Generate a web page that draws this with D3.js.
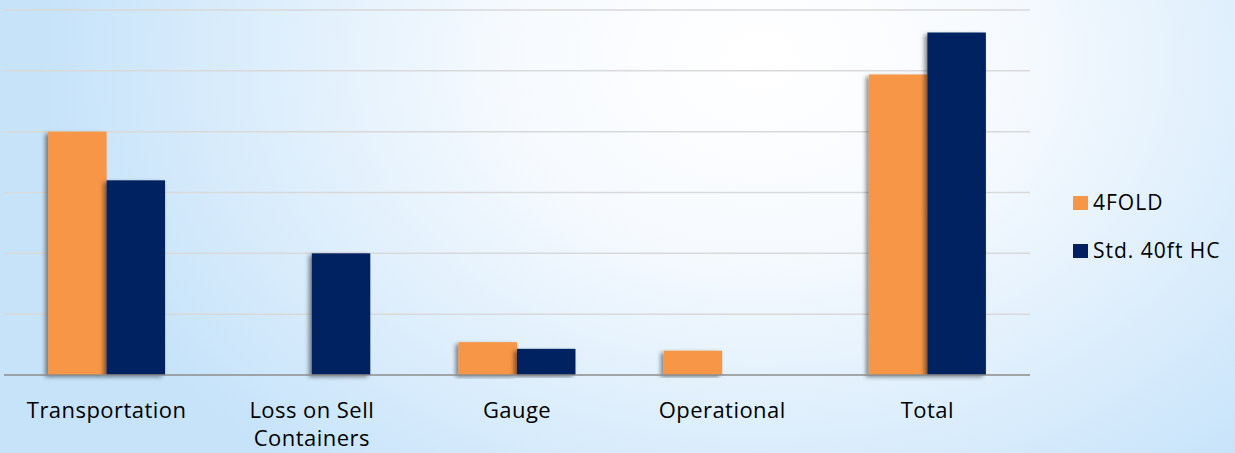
<!DOCTYPE html>
<html>
<head>
<meta charset="utf-8">
<style>
  html, body { margin: 0; padding: 0; }
  body { width: 1235px; height: 453px; overflow: hidden; }
  svg { display: block; font-family: "Open Sans", sans-serif; }
</style>
</head>
<body>
<svg id="chart" width="1235" height="453"></svg>
<script src="https://cdn.jsdelivr.net/npm/d3@7/dist/d3.min.js"></script>
<script>
  // data
  var categories = ["Transportation", "Loss on Sell Containers", "Gauge", "Operational", "Total"];
  var seriesNames = ["4FOLD", "Std. 40ft HC"];
  var fourFold = [4.0, 0, 0.54, 0.40, 4.94];
  var stdHC = [3.2, 2.0, 0.43, 0, 5.63];
  var gridTicks = [0, 1, 2, 3, 4, 5, 6];
  var colors = ["#f79646", "#002060"];

  var svg = d3.select("#chart"),
      margin = {top: 10, right: 205, bottom: 78, left: 4},
      width = +svg.attr("width") - margin.left - margin.right,
      height = +svg.attr("height") - margin.top - margin.bottom;

  // background gradient + bar shadow
  var defs = svg.append("defs");
  var grad = defs.append("radialGradient")
      .attr("id", "bg")
      .attr("gradientUnits", "userSpaceOnUse")
      .attr("cx", 760).attr("cy", 60).attr("r", 720)
      .attr("gradientTransform", "translate(760,60) scale(1,0.75) translate(-760,-60)");
  grad.append("stop").attr("offset", "0%").attr("stop-color", "#ffffff");
  grad.append("stop").attr("offset", "35%").attr("stop-color", "#f6fafe");
  grad.append("stop").attr("offset", "100%").attr("stop-color", "#c6e3fa");

  var shadow = defs.append("filter").attr("id", "shadow")
      .attr("x", "-30%").attr("y", "-10%").attr("width", "140%").attr("height", "120%");
  shadow.append("feDropShadow")
      .attr("dx", -3).attr("dy", 2).attr("stdDeviation", 2.2)
      .attr("flood-color", "#000").attr("flood-opacity", 0.45);

  svg.append("rect").attr("width", 1235).attr("height", 453).attr("fill", "url(#bg)");

  var g = svg.append("g").attr("transform", "translate(" + margin.left + "," + margin.top + ")");

  var x0 = d3.scaleBand().domain(categories).range([0, width]).paddingInner(0).paddingOuter(0);
  var x1 = d3.scaleBand().domain(seriesNames).range([0, x0.bandwidth() * 0.57])
  var y = d3.scaleLinear().domain([0, 6]).range([height, 0]);
  var z = d3.scaleOrdinal().domain(seriesNames).range(colors);

  // gridlines
  g.append("g").selectAll("line")
    .data(gridTicks.slice(1))
    .enter().append("line")
      .attr("x1", 0).attr("x2", width)
      .attr("y1", function(d) { return y(d); })
      .attr("y2", function(d) { return y(d); })
      .attr("stroke", "#d9d9d9")
      .attr("stroke-width", 1.5);

  var rows = categories.map(function(c, i) {
    return {cat: c, vals: [{key: seriesNames[0], value: fourFold[i]}, {key: seriesNames[1], value: stdHC[i]}]};
  });

  var groupOffset = (x0.bandwidth() - x1.range()[1]) / 2;

  g.append("g").selectAll("g")
    .data(rows)
    .enter().append("g")
      .attr("transform", function(d) { return "translate(" + (x0(d.cat) + groupOffset) + ",0)"; })
    .selectAll("rect")
    .data(function(d) { return d.vals.filter(function(v) { return v.value > 0; }); })
    .enter().append("rect")
      .attr("x", function(d) { return x1(d.key); })
      .attr("y", function(d) { return y(d.value); })
      .attr("width", x1.bandwidth())
      .attr("height", function(d) { return y(0) - y(d.value); })
      .attr("fill", function(d) { return z(d.key); })
      .attr("filter", "url(#shadow)");

  // baseline
  g.append("line")
    .attr("x1", 0).attr("x2", width)
    .attr("y1", y(0)).attr("y2", y(0))
    .attr("stroke", "#8c8c8c")
    .attr("stroke-width", 1.5);

  // category axis
  var xAxis = g.append("g")
      .attr("transform", "translate(0," + height + ")")
      .call(d3.axisBottom(x0).tickSize(0).tickPadding(0));
  xAxis.select(".domain").remove();
  xAxis.selectAll(".tick text")
      .attr("font-family", "'Open Sans', sans-serif")
      .attr("font-size", "22px")
      .attr("letter-spacing", "0.45px")
      .attr("fill", "#000")
      .attr("dy", null)
      .attr("y", 43)
      .each(function(d) {
        var el = d3.select(this);
        var lines = d === "Loss on Sell Containers" ? ["Loss on Sell", "Containers"] : [d];
        el.text(null);
        lines.forEach(function(l, i) {
          el.append("tspan").attr("x", 0).attr("dy", i ? 28 : 0).text(l);
        });
      });

  // legend
  var legend = svg.append("g")
      .attr("transform", "translate(1073,196)")
    .selectAll("g")
    .data(seriesNames)
    .enter().append("g")
      .attr("transform", function(d, i) { return "translate(0," + i * 48 + ")"; });

  legend.append("rect")
    .attr("width", 15).attr("height", 14)
    .attr("fill", z);

  legend.append("text")
    .attr("x", 20).attr("y", 14)
    .attr("font-size", "21px")
    .attr("letter-spacing", "1px")
    .attr("fill", "#000")
    .text(function(d) { return d; });
</script>
</body>
</html>
